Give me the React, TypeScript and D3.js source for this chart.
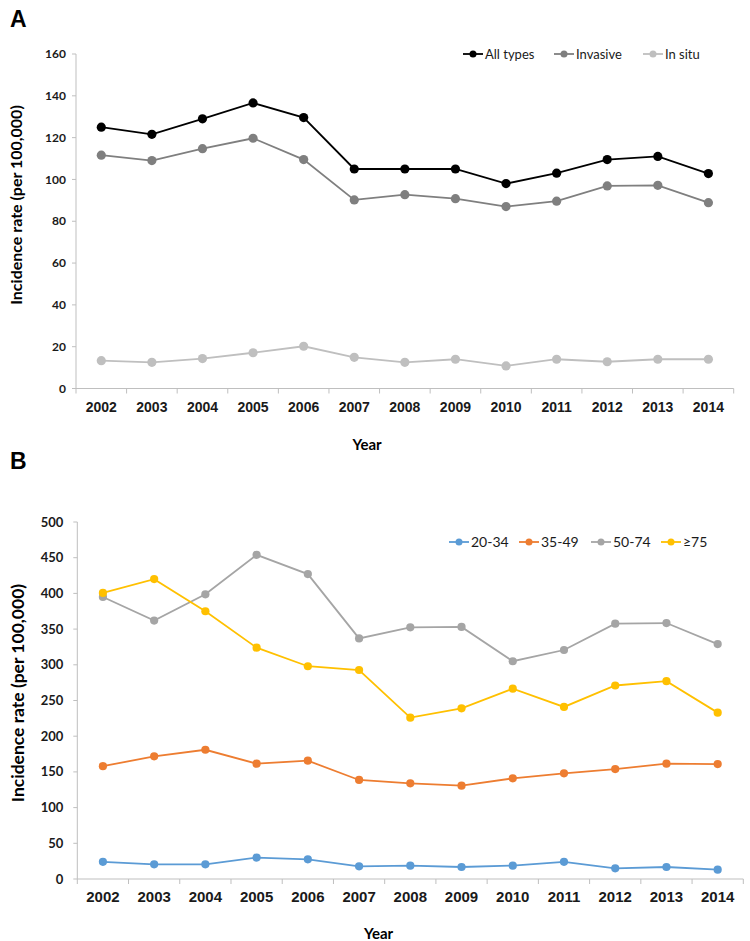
import * as d3 from "d3";

const years = ["2002", "2003", "2004", "2005", "2006", "2007", "2008", "2009", "2010", "2011", "2012", "2013", "2014"];

// Panel A
const allTypes = [125, 121.6, 129, 136.6, 129.6, 105, 105, 105, 98, 103, 109.5, 111, 102.8];
const invasive = [111.6, 109, 114.7, 119.7, 109.5, 90.2, 92.7, 90.8, 87, 89.6, 96.9, 97.2, 88.9];
const inSitu = [13.3, 12.5, 14.3, 17.1, 20.2, 14.9, 12.5, 14, 10.8, 14, 12.8, 14, 14];
const ticksA = [0, 20, 40, 60, 80, 100, 120, 140, 160];

// Panel B
const age20 = [24, 20.5, 20.5, 30, 27.5, 17.7, 18.7, 16.8, 18.7, 24, 15, 16.8, 13];
const age35 = [158, 171.8, 181, 161.5, 165.7, 138.7, 134, 130.7, 141, 148, 154, 161.5, 161];
const age50 = [395, 362, 398.7, 454, 427, 337, 352.5, 353, 305, 320.7, 357.6, 358.5, 329];
const age75 = [400.6, 420, 375, 324, 298, 292.7, 226, 239, 266.5, 241, 271, 277, 233];
const ticksB = [0, 50, 100, 150, 200, 250, 300, 350, 400, 450, 500];

const seriesA = [
  { name: "All types", values: allTypes, color: "#000000" },
  { name: "Invasive", values: invasive, color: "#7f7f7f" },
  { name: "In situ", values: inSitu, color: "#bfbfbf" },
];

const seriesB = [
  { name: "20-34", values: age20, color: "#5b9bd5" },
  { name: "35-49", values: age35, color: "#ed7d31" },
  { name: "50-74", values: age50, color: "#a5a5a5" },
  { name: "≥75", values: age75, color: "#ffc000" },
];

const calibri = "Lato, 'Open Sans', sans-serif";
const arial = "'Liberation Sans', Arial, sans-serif";

interface Series {
  name: string;
  values: number[];
  color: string;
}

interface PanelProps {
  letter: string;
  letterY: number;
  series: Series[];
  ticks: number[];
  yMax: number;
  left: number;
  right: number;
  top: number;
  bottom: number;
  r: number;
  tickSize: number;
  tickGap: number;
  xTickSize: number;
  titleX: number;
  titleY: number;
  titleSize: number;
  yearX: number;
  yearY: number;
  legendX: number[];
  legendY: number;
  legendSize: number;
}

function Panel(p: PanelProps) {
  const x = d3.scaleBand<string>().domain(years).range([p.left, p.right]).padding(0);
  const y = d3.scaleLinear().domain([0, p.yMax]).range([p.bottom, p.top]);
  const cx = (d: string) => (x(d) ?? 0) + x.bandwidth() / 2;
  const line = d3
    .line<number>()
    .x((_, i) => cx(years[i]))
    .y((v) => y(v));
  const boundaries = years.map((d) => x(d) ?? 0).concat([p.right]);
  const axisColor = "#bfbfbf";

  return (
    <g>
      <text x={10} y={p.letterY} fontFamily={arial} fontWeight="bold" fontSize={23} fill="#000">
        {p.letter}
      </text>
      {/* axes */}
      <line x1={p.left} x2={p.left} y1={p.top} y2={p.bottom} stroke={axisColor} strokeWidth={1} />
      <line x1={p.left} x2={p.right} y1={p.bottom} y2={p.bottom} stroke={axisColor} strokeWidth={1} />
      {boundaries.map((b, i) => (
        <line key={i} x1={b} x2={b} y1={p.bottom} y2={p.bottom + 5} stroke={axisColor} strokeWidth={1} />
      ))}
      {p.ticks.map((t) => (
        <g key={t}>
          <line x1={p.left - 4} x2={p.left} y1={y(t)} y2={y(t)} stroke={axisColor} strokeWidth={1} />
          <text
            x={p.left - p.tickGap}
            y={y(t)}
            dy="0.35em"
            textAnchor="end"
            fontFamily={calibri}
            fontWeight="bold"
            fontSize={p.tickSize}
            fill="#1a1a1a"
          >
            {t}
          </text>
        </g>
      ))}
      {years.map((d) => (
        <text
          key={d}
          x={cx(d)}
          y={p.bottom + 23}
          textAnchor="middle"
          fontFamily={arial}
          fontWeight="bold"
          fontSize={p.xTickSize}
          fill="#1a1a1a"
        >
          {d}
        </text>
      ))}
      <text
        transform={`translate(${p.titleX},${p.titleY}) rotate(-90)`}
        textAnchor="middle"
        dy="0.35em"
        fontFamily={calibri}
        fontWeight="bold"
        fontSize={p.titleSize}
        fill="#000"
      >
        Incidence rate (per 100,000)
      </text>
      <text
        x={p.yearX}
        y={p.yearY}
        textAnchor="middle"
        fontFamily={calibri}
        fontWeight="bold"
        fontSize={15}
        fill="#000"
      >
        Year
      </text>
      {/* series */}
      {p.series.map((s) => (
        <g key={s.name}>
          <path d={line(s.values) ?? ""} fill="none" stroke={s.color} strokeWidth={1.8} />
          {s.values.map((v, i) => (
            <circle key={i} cx={cx(years[i])} cy={y(v)} r={p.r} fill={s.color} />
          ))}
        </g>
      ))}
      {/* legend */}
      {p.series.map((s, i) => (
        <g key={s.name} transform={`translate(${p.legendX[i]},${p.legendY})`}>
          <line x1={0} x2={20} y1={0} y2={0} stroke={s.color} strokeWidth={1.8} />
          <circle cx={10} cy={0} r={3.5} fill={s.color} />
          <text x={22} y={0} dy="0.35em" fontFamily={calibri} fontSize={p.legendSize} fill="#1a1a1a">
            {s.name}
          </text>
        </g>
      ))}
    </g>
  );
}

export default function App() {
  return (
    <svg
      width={750}
      height={941}
      viewBox="0 0 750 941"
      style={{ position: "absolute", left: 0, top: 0, background: "#fff" }}
    >
      <rect width={750} height={941} fill="#fff" />
      <Panel
        letter="A"
        letterY={27}
        series={seriesA}
        ticks={ticksA}
        yMax={160}
        left={76}
        right={733.7}
        top={54}
        bottom={388.5}
        r={4.6}
        tickSize={12}
        tickGap={10}
        xTickSize={14}
        titleX={16}
        titleY={205}
        titleSize={16}
        yearX={367}
        yearY={450}
        legendX={[463, 554, 643]}
        legendY={54}
        legendSize={13}
      />
      <Panel
        letter="B"
        letterY={469}
        series={seriesB}
        ticks={ticksB}
        yMax={500}
        left={77.3}
        right={743.3}
        top={522}
        bottom={879}
        r={4.1}
        tickSize={13}
        tickGap={14}
        xTickSize={15}
        titleX={18}
        titleY={693}
        titleSize={17.5}
        yearX={378.5}
        yearY={939}
        legendX={[449, 519, 591, 661]}
        legendY={542}
        legendSize={14}
      />
    </svg>
  );
}
